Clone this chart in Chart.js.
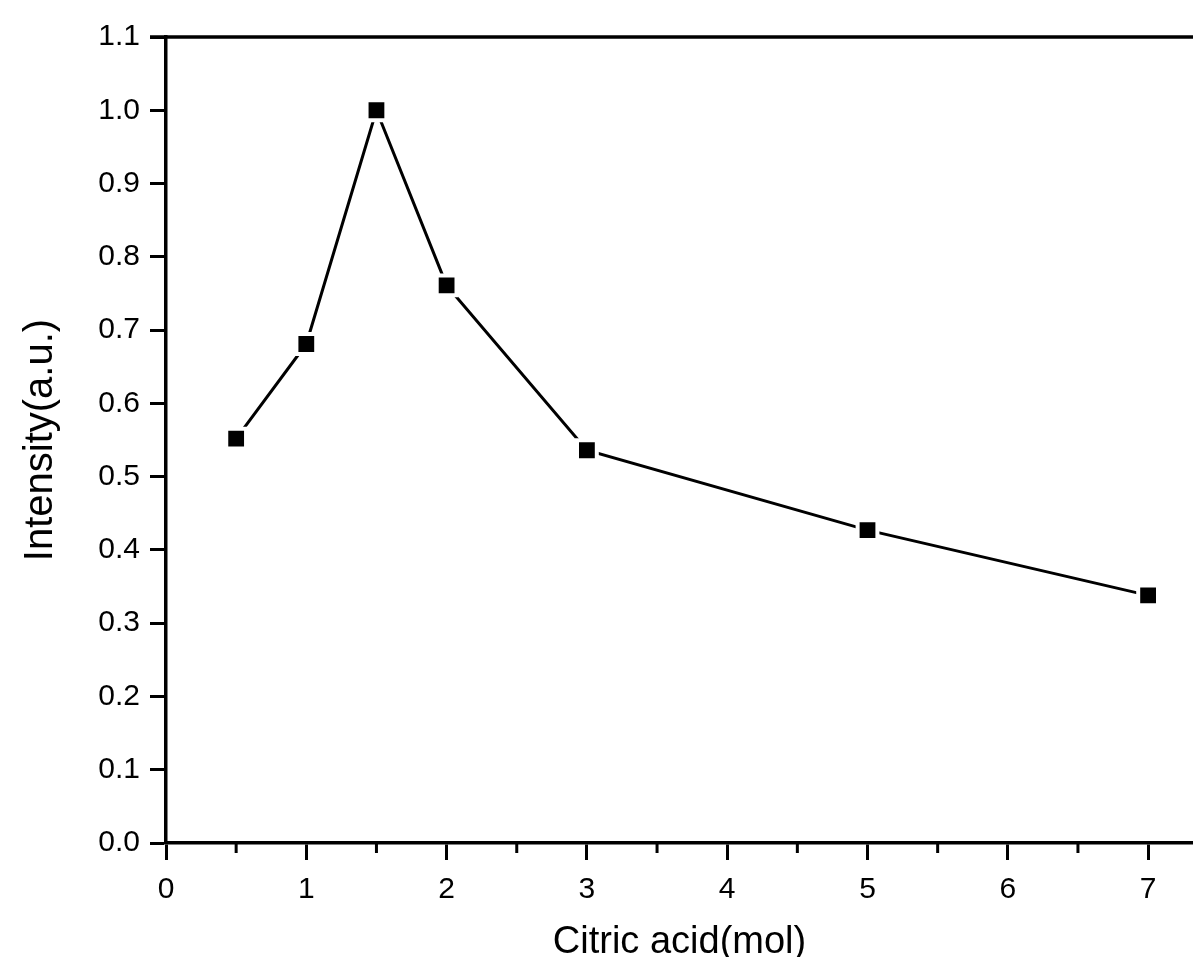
<!DOCTYPE html>
<html>
<head>
<meta charset="utf-8">
<script src="https://cdn.jsdelivr.net/npm/chart.js@4.4.0/dist/chart.umd.min.js"></script>
<style>
  html, body { margin: 0; padding: 0; background: #fff; }
  #wrap { width: 1193px; height: 957px; }
</style>
</head>
<body>
<div id="wrap"><canvas id="myChart" width="1193" height="957"></canvas></div>
<script>
"use strict";

// citric acid amount (mol) and normalised intensity
let citricAcid = [0.5, 1, 1.5, 2, 3, 5, 7];
let intensity = [0.552, 0.681, 1.0, 0.761, 0.536, 0.427, 0.338];
let minorTicksX = [0.5, 1.5, 2.5, 3.5, 4.5, 5.5, 6.5];

let points = [];
for (let i = 0; i < citricAcid.length; i++) {
    points.push({ x: citricAcid[i], y: intensity[i] });
}

// top frame line + short minor ticks on the x axis
let framePlugin = {
    id: "frame",
    afterDraw: function (chart) {
        let ctx = chart.ctx;
        let area = chart.chartArea;
        let xs = chart.scales.x;
        ctx.save();
        ctx.strokeStyle = "#000";
        ctx.lineWidth = 3.5;
        ctx.beginPath();
        ctx.moveTo(area.left - 16, area.top);
        ctx.lineTo(area.right, area.top);
        ctx.stroke();
        ctx.lineWidth = 3;
        for (let i = 0; i < minorTicksX.length; i++) {
            let px = xs.getPixelForValue(minorTicksX[i]);
            ctx.beginPath();
            ctx.moveTo(px, area.bottom);
            ctx.lineTo(px, area.bottom + 10);
            ctx.stroke();
        }
        ctx.restore();
    }
};

let font = "'Liberation Sans', Arial, sans-serif";

new Chart(document.getElementById("myChart"), {
    type: "scatter",
    data: {
        datasets: [{
            data: points,
            showLine: true,
            borderColor: "#000",
            borderWidth: 3,
            pointStyle: "rect",
            pointRadius: 14,
            pointHoverRadius: 14,
            pointBackgroundColor: "#000",
            pointBorderColor: "#fff",
            pointBorderWidth: 4
        }]
    },
    options: {
        responsive: false,
        animation: false,
        events: [],
        layout: { autoPadding: false, padding: { top: 37, right: 0, left: 0, bottom: 0 } },
        plugins: { legend: { display: false }, tooltip: { enabled: false } },
        scales: {
            x: {
                type: "linear",
                min: 0,
                max: 7.32,
                afterFit: function (scale) {
                    scale.height = 114;
                    scale.paddingRight = 0;
                    scale.paddingLeft = 0;
                },
                border: { display: true, color: "#000", width: 3.5 },
                grid: { drawOnChartArea: false, drawTicks: true, tickLength: 17, tickColor: "#000", tickWidth: 3 },
                ticks: {
                    stepSize: 1,
                    includeBounds: false,
                    color: "#000",
                    padding: 12,
                    maxRotation: 0,
                    font: { family: font, size: 30 },
                    callback: function (v) { return v.toString(); }
                },
                title: {
                    display: true,
                    text: "Citric acid(mol)",
                    color: "#000",
                    font: { family: font, size: 38 },
                    padding: { top: 4, bottom: -8 }
                }
            },
            y: {
                type: "linear",
                min: 0,
                max: 1.1,
                afterFit: function (scale) { scale.width = 166; },
                border: { display: true, color: "#000", width: 3.5 },
                grid: { drawOnChartArea: false, drawTicks: true, tickLength: 16, tickColor: "#000", tickWidth: 3 },
                ticks: {
                    stepSize: 0.1,
                    color: "#000",
                    padding: 10,
                    font: { family: font, size: 30 },
                    callback: function (v) { return v.toFixed(1); }
                },
                title: {
                    display: true,
                    text: "Intensity(a.u.)",
                    color: "#000",
                    font: { family: font, size: 40 },
                    padding: { top: 17, bottom: 14 }
                }
            }
        }
    },
    plugins: [framePlugin]
});
</script>
</body>
</html>
